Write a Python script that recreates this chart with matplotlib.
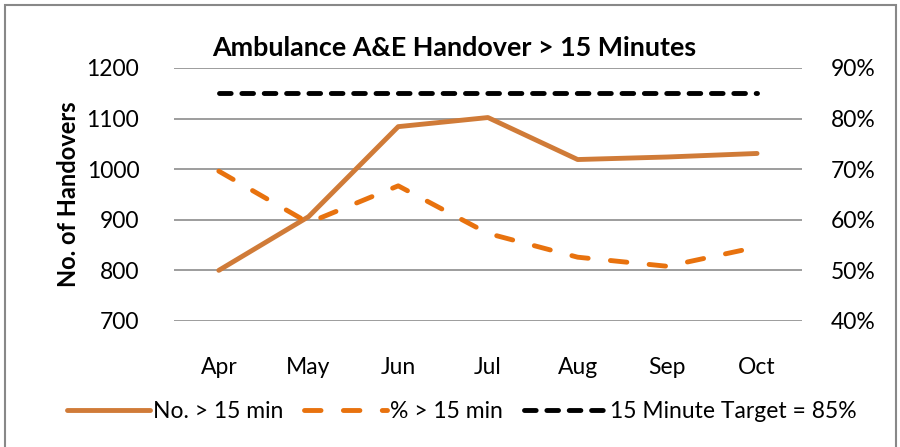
import matplotlib.pyplot as plt
from matplotlib.lines import Line2D
from matplotlib.patches import Rectangle

months = ["Apr", "May", "Jun", "Jul", "Aug", "Sep", "Oct"]
handovers = [800, 906, 1084, 1102, 1019, 1024, 1031]
pct_over = [69.6, 59.4, 66.7, 57.3, 52.6, 50.8, 54.6]
target = [85, 85, 85, 85, 85, 85, 85]

plt.rcParams["font.family"] = ["Lato", "DejaVu Sans"]

fig = plt.figure(figsize=(9, 4.47), dpi=100)
ax = fig.add_axes([0.1933, 0.282, 0.6977, 0.566])
ax2 = ax.twinx()

# line styles taken from the Excel look
solid_kw = dict(color="#D07B38", lw=3.5, solid_capstyle="round")
pct_kw = dict(color="#E8720E", lw=3.5, dashes=(3.4, 4.6), dash_capstyle="round")
tgt_kw = dict(color="black", lw=3.5, dashes=(2.4, 2.2), dash_capstyle="round")

x = list(range(len(months)))
ax.plot(x, handovers, zorder=3, **solid_kw)
ax2.plot(x, pct_over, zorder=3, **pct_kw)
ax2.plot(x, target, zorder=3, **tgt_kw)

ax.set_xlim(-0.5, 6.5)
ax.set_ylim(700, 1200)
ax.set_yticks([700, 800, 900, 1000, 1100, 1200])
ax2.set_ylim(40, 90)
ax2.set_yticks([40, 50, 60, 70, 80, 90])
ax2.set_yticklabels([f"{v}%" for v in range(40, 100, 10)])
ax.set_xticks(x)
ax.set_xticklabels(months)
ax.grid(axis="y", color="#8c8c8c", lw=1.2)
ax.set_axisbelow(True)

for a in (ax, ax2):
    for s in a.spines.values():
        s.set_visible(False)
    a.tick_params(length=0, labelsize=16.5, colors="black")
ax.tick_params(axis="y", pad=25)
ax2.tick_params(axis="y", pad=21)
ax.tick_params(axis="x", pad=26)

ax.set_ylabel("No. of Handovers", fontsize=17, fontweight="bold", labelpad=5)
fig.text(0.505, 0.893, "Ambulance A&E Handover > 15 Minutes", ha="center",
         va="center", fontsize=19.4, fontweight="bold")

handles = [
    Line2D([], [], **solid_kw),
    Line2D([], [], **pct_kw),
    Line2D([], [], **tgt_kw),
]
fig.legend(handles, ["No. > 15 min", "% > 15 min", "15 Minute Target = 85%"],
           loc="center", bbox_to_anchor=(0.513, 0.08), ncol=3, frameon=False,
           fontsize=16.5, handlelength=3.6, handletextpad=0.15, columnspacing=0.9)

fig.patches.append(Rectangle((0.006, -0.01), 0.99, 0.998, transform=fig.transFigure,
                             fill=False, edgecolor="#888888", lw=1.5))

fig.savefig("out.png", dpi=100)
